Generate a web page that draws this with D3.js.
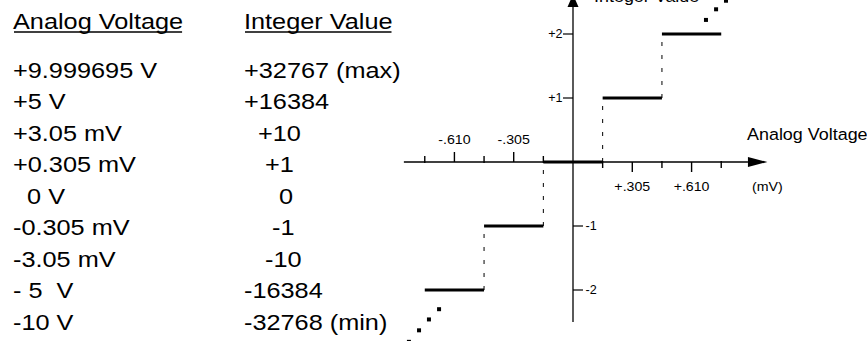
<!DOCTYPE html>
<html>
<head>
<meta charset="utf-8">
<script src="https://cdn.jsdelivr.net/npm/d3@7"></script>
<style>
  html, body { margin: 0; padding: 0; background: #fff; }
  svg { display: block; }
  text { font-family: "Liberation Sans", Arial, sans-serif; fill: #000; white-space: pre; }
</style>
</head>
<body>
<svg id="chart" width="867" height="341"></svg>
<script>
// Conversion table: analog input voltage vs. resulting integer code
const tableHeaders = ["Analog Voltage", "Integer Value"];
const voltageLabels = ["+9.999695 V", "+5 V", "+3.05 mV", "+0.305 mV", "  0 V",
                       "-0.305 mV", "-3.05 mV", "- 5  V", "-10 V"];
const integerLabels = ["+32767 (max)", "+16384", "  +10", "   +1", "     0",
                       "    -1", "   -10", "-16384", "-32768 (min)"];

// Transfer staircase: each code spans one LSB (0.305 mV) centred on its value
const stepCodes = [-2, -1, 0, 1, 2];
const stepLo = [-0.7625, -0.4575, -0.1525, 0.1525, 0.4575];
const stepHi = [-0.4575, -0.1525, 0.1525, 0.4575, 0.7625];

// Continuation dots beyond the drawn steps (mV, code)
const dotsUpper = [[0.684, 2.22], [0.736, 2.386], [0.787, 2.52]];
const dotsLower = [[-0.689, -2.30], [-0.741, -2.46], [-0.792, -2.63], [-0.844, -2.81]];

// Axis ticks
const xMajorTicks = [-0.610, -0.305, 0.305, 0.610];
const xMajorLabels = ["-.610", "-.305", "+.305", "+.610"];
const xMinorTicks = [-0.7625, -0.4575, -0.1525, 0.1525, 0.4575, 0.7625];
const yTicks = [2, 1, -1, -2];
const yTickLabels = ["+2", "+1", "-1", "-2"];

const svg = d3.select("#chart");

const x = d3.scaleLinear().domain([-1, 1]).range([378.6, 767.4]);
const y = d3.scaleLinear().domain([-3, 3]).range([354, -30]);
const x0 = x(0), y0 = y(0);

// ---- table on the left ----
const tableSX = 1.15;
const colX = [13, 244];
const headerY = 29;
const rowY0 = 77.8, rowStep = 31.5;

function stretchedText(g, tx, ty, str, size, sx) {
  return g.append("text")
    .attr("transform", `translate(${tx},${ty}) scale(${sx},1)`)
    .attr("font-size", size)
    .text(str);
}

const table = svg.append("g");
tableHeaders.forEach((h, i) => {
  const t = stretchedText(table, colX[i], headerY, h, 22, tableSX);
  const w = t.node().getComputedTextLength() * tableSX;
  table.append("line")
    .attr("x1", colX[i] + 1).attr("x2", colX[i] + w - 1)
    .attr("y1", headerY + 3).attr("y2", headerY + 3)
    .attr("stroke", "#000").attr("stroke-width", 1.6);
});
voltageLabels.forEach((s, i) => stretchedText(table, colX[0], rowY0 + i * rowStep, s, 22, tableSX));
integerLabels.forEach((s, i) => stretchedText(table, colX[1], rowY0 + i * rowStep, s, 22, tableSX));

// ---- axes ----
const axes = svg.append("g").attr("stroke", "#000").attr("fill", "#000");
const xArrowBase = 0.9, xArrowTip = 1.0;
axes.append("line")
  .attr("x1", x(-0.87)).attr("x2", x(xArrowBase))
  .attr("y1", y0).attr("y2", y0).attr("stroke-width", 1.3);
axes.append("path")
  .attr("stroke", "none")
  .attr("d", `M${x(xArrowBase)},${y0 - 5}L${x(xArrowTip)},${y0}L${x(xArrowBase)},${y0 + 5}Z`);

const yArrowBase = 2.42, yArrowTip = 2.62;
axes.append("line")
  .attr("x1", x0).attr("x2", x0)
  .attr("y1", y(-2.5)).attr("y2", y(yArrowBase)).attr("stroke-width", 1.3);
axes.append("path")
  .attr("stroke", "none")
  .attr("d", `M${x0 - 5.5},${y(yArrowBase)}L${x0},${y(yArrowTip)}L${x0 + 5.5},${y(yArrowBase)}Z`);

// x ticks: above the axis on the negative side, below on the positive side
xMajorTicks.forEach(v => {
  const dir = v < 0 ? -1 : 1;
  axes.append("line")
    .attr("x1", x(v)).attr("x2", x(v))
    .attr("y1", y0).attr("y2", y0 + dir * 10).attr("stroke-width", 1.4);
});
xMinorTicks.forEach(v => {
  const dir = v < 0 ? -1 : 1;
  axes.append("line")
    .attr("x1", x(v)).attr("x2", x(v))
    .attr("y1", y0 - dir * 1).attr("y2", y0 + dir * 6).attr("stroke-width", 1.4);
});

// y ticks: left for positive codes, right for negative codes
yTicks.forEach(v => {
  const dir = v > 0 ? -1 : 1;
  axes.append("line")
    .attr("x1", x0).attr("x2", x0 + dir * 10)
    .attr("y1", y(v)).attr("y2", y(v)).attr("stroke-width", 1.2);
});

const labels = svg.append("g");
xMajorTicks.forEach((v, i) => {
  const ty = v < 0 ? y0 - 18 : y0 + 28.5;
  stretchedText(labels, 0, 0, xMajorLabels[i], 13.5, 1.05)
    .attr("transform", `translate(${x(v)},${ty}) scale(1.05,1)`)
    .attr("text-anchor", "middle");
});
yTicks.forEach((v, i) => {
  const t = stretchedText(labels, 0, 0, yTickLabels[i], 12, 1.05);
  if (v > 0) {
    t.attr("transform", `translate(${x0 - 10.5},${y(v) + 4.3}) scale(1.05,1)`).attr("text-anchor", "end");
  } else {
    t.attr("transform", `translate(${x0 + 12.5},${y(v) + 4.3}) scale(1.05,1)`);
  }
});
stretchedText(labels, x(1.0), y0 + 28.5, "(mV)", 13.5, 1.05).attr("text-anchor", "middle")
  .attr("transform", `translate(${x(1.0)},${y0 + 28.5}) scale(1.05,1)`);
stretchedText(labels, 747, 140, "Analog Voltage", 16.3, 1.1);
stretchedText(labels, 594, 1.5, "Integer Value", 16.3, 1.1);

// ---- staircase ----
const steps = stepCodes.map((c, i) => ({ code: c, lo: stepLo[i], hi: stepHi[i] }));
const plot = svg.append("g");

// dashed risers between adjacent codes
plot.selectAll("line.riser")
  .data(steps.slice(0, -1))
  .join("line")
  .attr("class", "riser")
  .attr("x1", d => x(d.hi)).attr("x2", d => x(d.hi))
  .attr("y1", (d, i) => y(d.code)).attr("y2", (d, i) => y(steps[i + 1].code))
  .attr("stroke", "#000").attr("stroke-width", 1)
  .attr("stroke-dasharray", "4,9");

plot.selectAll("line.tread")
  .data(steps)
  .join("line")
  .attr("class", "tread")
  .attr("x1", d => x(d.lo)).attr("x2", d => x(d.hi))
  .attr("y1", d => y(d.code)).attr("y2", d => y(d.code))
  .attr("stroke", "#000").attr("stroke-width", 3.2);

// continuation dots
const dotSize = 4;
plot.selectAll("rect.dot")
  .data(dotsUpper.concat(dotsLower))
  .join("rect")
  .attr("class", "dot")
  .attr("x", d => x(d[0]) - dotSize / 2)
  .attr("y", d => y(d[1]) - dotSize / 2)
  .attr("width", dotSize).attr("height", dotSize)
  .attr("fill", "#000");
</script>
</body>
</html>
